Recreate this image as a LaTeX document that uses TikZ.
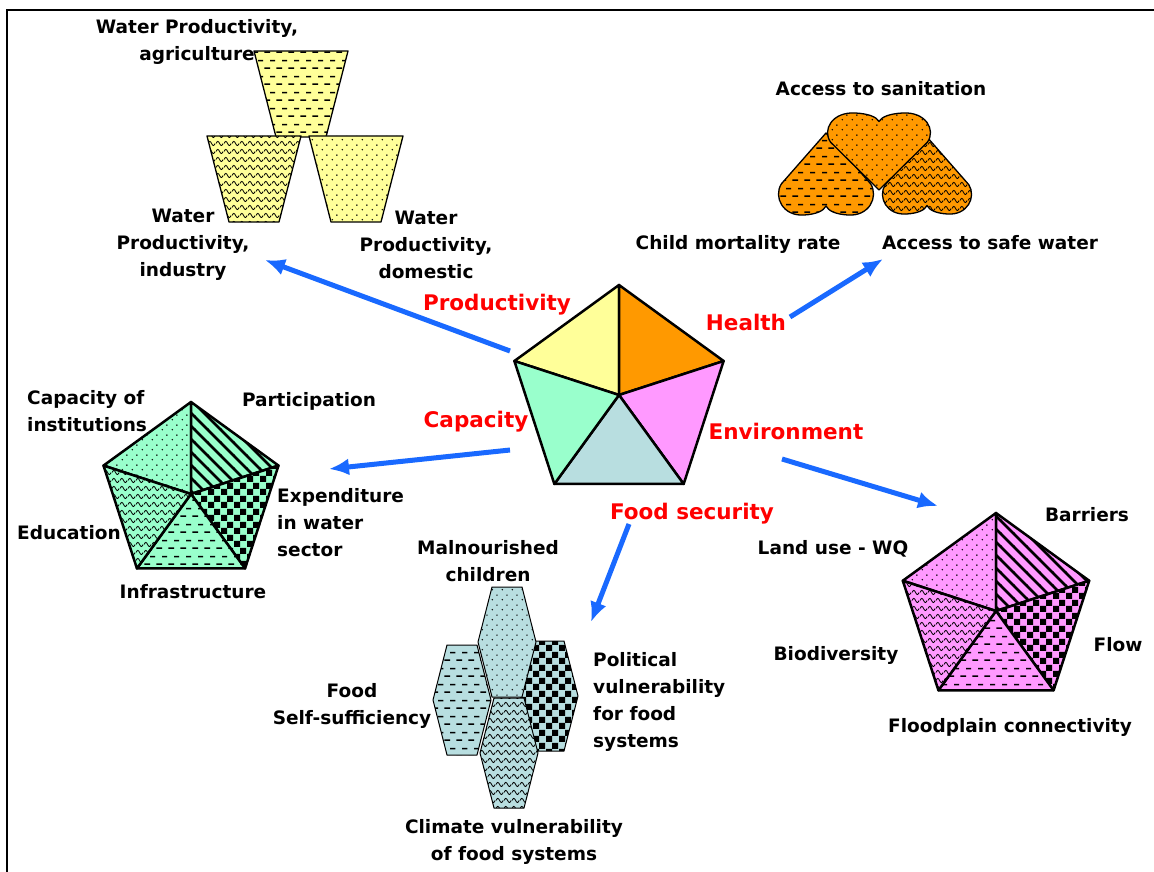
\documentclass[tikz,border=0pt]{standalone}
\usepackage{fontspec}
\setmainfont{DejaVu Sans}
\usepackage{tikz}
\usetikzlibrary{arrows.meta}
\usetikzlibrary{patterns}
\tikzset{>={Latex[length=20pt,width=17pt]}}
\usepackage{xcolor}
\definecolor{prodcol}{RGB}{255,255,153}
\definecolor{healthcol}{RGB}{255,153,0}
\definecolor{envcol}{RGB}{255,153,255}
\definecolor{foodcol}{RGB}{184,222,224}
\definecolor{capcol}{RGB}{153,255,204}
\definecolor{arrowcol}{RGB}{25,105,255}

% fill patterns
\pgfdeclarepatternformonly{dotpat}{\pgfqpoint{0pt}{0pt}}{\pgfqpoint{10pt}{10pt}}{\pgfqpoint{10pt}{10pt}}{%
  \pgfpathcircle{\pgfqpoint{2.5pt}{2.5pt}}{0.85pt}%
  \pgfpathcircle{\pgfqpoint{7.5pt}{7.5pt}}{0.85pt}%
  \pgfusepath{fill}}
\pgfdeclarepatternformonly{dashpat}{\pgfqpoint{0pt}{0pt}}{\pgfqpoint{12pt}{16pt}}{\pgfqpoint{12pt}{16pt}}{%
  \pgfsetlinewidth{1.5pt}%
  \pgfpathmoveto{\pgfqpoint{0.5pt}{4pt}}\pgfpathlineto{\pgfqpoint{6.5pt}{4pt}}%
  \pgfpathmoveto{\pgfqpoint{6.5pt}{12pt}}\pgfpathlineto{\pgfqpoint{12pt}{12pt}}%
  \pgfusepath{stroke}}
\pgfdeclarepatternformonly{wavepat}{\pgfqpoint{0pt}{0pt}}{\pgfqpoint{8pt}{7.5pt}}{\pgfqpoint{8pt}{7.5pt}}{%
  \pgfsetlinewidth{0.9pt}%
  \pgfpathmoveto{\pgfqpoint{0pt}{3.75pt}}%
  \pgfpathsine{\pgfqpoint{2pt}{2.2pt}}\pgfpathcosine{\pgfqpoint{2pt}{-2.2pt}}%
  \pgfpathsine{\pgfqpoint{2pt}{-2.2pt}}\pgfpathcosine{\pgfqpoint{2pt}{2.2pt}}%
  \pgfusepath{stroke}}
\pgfdeclarepatternformonly{checkpat}{\pgfqpoint{0pt}{0pt}}{\pgfqpoint{13pt}{13pt}}{\pgfqpoint{13pt}{13pt}}{%
  \pgfpathrectangle{\pgfqpoint{0pt}{0pt}}{\pgfqpoint{6.5pt}{6.5pt}}%
  \pgfpathrectangle{\pgfqpoint{6.5pt}{6.5pt}}{\pgfqpoint{6.5pt}{6.5pt}}%
  \pgfusepath{fill}}
\pgfdeclarepatternformonly{stripepat}{\pgfqpoint{-1pt}{-1pt}}{\pgfqpoint{14pt}{14pt}}{\pgfqpoint{13pt}{13pt}}{%
  \pgfsetlinewidth{2.8pt}%
  \pgfpathmoveto{\pgfqpoint{-1pt}{14pt}}\pgfpathlineto{\pgfqpoint{14pt}{-1pt}}%
  \pgfusepath{stroke}}

\tikzset{
  lbl/.style={font=\bfseries\fontsize{18.5}{27}\selectfont, align=center, inner sep=0pt},
  headlbl/.style={font=\bfseries\fontsize{21.5}{26}\selectfont, text=red, inner sep=0pt},
  segline/.style={draw=black, line width=2.5pt, line join=round},
  cupline/.style={draw=black, line width=1.3pt, line join=round, preaction={fill=prodcol}},
  hexline/.style={draw=black, line width=1pt, line join=round, preaction={fill=foodcol}},
  heartline/.style={draw=black, line width=1.3pt, line join=round, preaction={fill=healthcol}},
  linkarrow/.style={->, draw=arrowcol, line width=5pt},
}

\begin{document}
\begin{tikzpicture}[x=1pt,y=-1pt]
  \useasboundingbox (0,0) rectangle (1154,872);
  \draw[line width=2pt] (7,872) -- (7,10) -- (1154,10);

  % central pentagon
  \def\R{110}
  \coordinate (mid0) at (619,395);
  \foreach \i/\a in {1/-90,2/-18,3/54,4/126,5/198}
    \coordinate (mid\i) at ([shift={(\a:\R)}]619,395);
  \foreach \a/\b/\col in {1/5/prodcol,1/2/healthcol,2/3/envcol,3/4/foodcol,4/5/capcol}
    \filldraw[segline, fill=\col] (mid\a) -- (mid\b) -- (mid0) -- cycle;

  % capacity and environment pentagons
  \foreach \p/\cx/\cy/\rad in {cap/191/494/92, env/996/611/98} {
    \coordinate (\p0) at (\cx,\cy);
    \foreach \i/\a in {1/-90,2/-18,3/54,4/126,5/198}
      \coordinate (\p\i) at ([shift={(\a:\rad)}]\cx,\cy);
  }
  \foreach \a/\b/\pat in {1/5/dotpat,1/2/stripepat,2/3/checkpat,3/4/dashpat,4/5/wavepat} {
    \draw[segline, preaction={fill=capcol}, pattern=\pat] (cap\a) -- (cap\b) -- (cap0) -- cycle;
    \draw[segline, preaction={fill=envcol}, pattern=\pat] (env\a) -- (env\b) -- (env0) -- cycle;
  }

  % productivity cups
  \foreach \cx/\ty/\pat in {301/51/dashpat,254/136/wavepat,356/136/dotpat}
    \draw[cupline, pattern=\pat] (\cx-47,\ty) -- (\cx+47,\ty) -- (\cx+25,\ty+86) -- (\cx-25,\ty+86) -- cycle;

  % health hearts
  \def\heartpath{(0,0) -- (-0.93,0.62) .. controls (-1.1,0.78) and (-0.9,1.02) .. (-0.45,1)
    .. controls (-0.2,0.99) and (-0.05,0.95) .. (0,0.89) .. controls (0.05,0.95) and (0.2,0.99) .. (0.45,1)
    .. controls (0.9,1.02) and (1.1,0.78) .. (0.93,0.62) -- cycle}
  \begin{scope}[shift={(826,133)}, xscale=48, yscale=82]
    \draw[heartline, pattern=dashpat] \heartpath;
  \end{scope}
  \begin{scope}[shift={(927,137)}, xscale=45, yscale=77]
    \draw[heartline, pattern=wavepat] \heartpath;
  \end{scope}
  \begin{scope}[shift={(879,190)}, xscale=52, yscale=-77]
    \draw[heartline, pattern=dotpat] \heartpath;
  \end{scope}

  % food security hexagons
  \foreach \cx/\cy/\pat in {462/700/dashpat,549/696/checkpat,507/642/dotpat,509/753/wavepat}
    \draw[hexline, pattern=\pat] (\cx-15,\cy-55) -- (\cx+15,\cy-55) -- (\cx+29,\cy)
      -- (\cx+15,\cy+55) -- (\cx-15,\cy+55) -- (\cx-29,\cy) -- cycle;

  % labels
  \node[headlbl] (productivity) at (497,305) {Productivity};
  \node[headlbl] (health) at (746,322) {Health};
  \node[headlbl] (capacity) at (476,422) {Capacity};
  \node[headlbl] (environment) at (786,431) {Environment};
  \node[headlbl] (foodsec) at (692,514) {Food security};

  \node[lbl] (agri) at (197,42) {Water Productivity,\\agriculture};
  \node[lbl] (industry) at (183,245) {Water\\Productivity,\\industry};
  \node[lbl] (domestic) at (426,245) {Water\\Productivity,\\domestic};
  \node[lbl] (sanitation) at (881,89) {Access to sanitation};
  \node[lbl] (mortality) at (738,244) {Child mortality rate};
  \node[lbl] (safewater) at (990,243) {Access to safe water};
  \node[lbl, anchor=west, align=left] (institutions) at (27,411) {Capacity of\\institutions};
  \node[lbl] (participation) at (309,401) {Participation};
  \node[lbl, anchor=west, align=left] (expenditure) at (277,523) {Expenditure\\in water\\sector};
  \node[lbl] (education) at (69,533) {Education};
  \node[lbl] (infrastructure) at (193,592) {Infrastructure};
  \node[lbl] (barriers) at (1087,515) {Barriers};
  \node[lbl] (landuse) at (833,549) {Land use - WQ};
  \node[lbl] (flow) at (1118,645) {Flow};
  \node[lbl] (biodiversity) at (836,655) {Biodiversity};
  \node[lbl] (floodplain) at (1010,727) {Floodplain connectivity};
  \node[lbl] (malnourished) at (488,561) {Malnourished\\children};
  \node[lbl] (selfsuff) at (352,706) {Food\\Self-sufficiency};
  \node[lbl, anchor=west, align=left] (political) at (593,702) {Political\\vulnerability\\for food\\systems};
  \node[lbl] (climate) at (514,842) {Climate vulnerability\\of food systems};

  % arrows
  \coordinate (prodfrom) at (510,351);  \coordinate (prodto) at (265,260);
  \coordinate (healthfrom) at (790,317); \coordinate (healthto) at (883,259);
  \coordinate (capfrom) at (510,450);   \coordinate (capto) at (329,469);
  \coordinate (envfrom) at (782,459);   \coordinate (envto) at (938,506);
  \coordinate (foodfrom) at (629,524);  \coordinate (foodto) at (591,622);
  \draw[linkarrow] (prodfrom) -- (prodto);
  \draw[linkarrow] (healthfrom) -- (healthto);
  \draw[linkarrow] (capfrom) -- (capto);
  \draw[linkarrow] (envfrom) -- (envto);
  \draw[linkarrow] (foodfrom) -- (foodto);
\end{tikzpicture}
\end{document}
